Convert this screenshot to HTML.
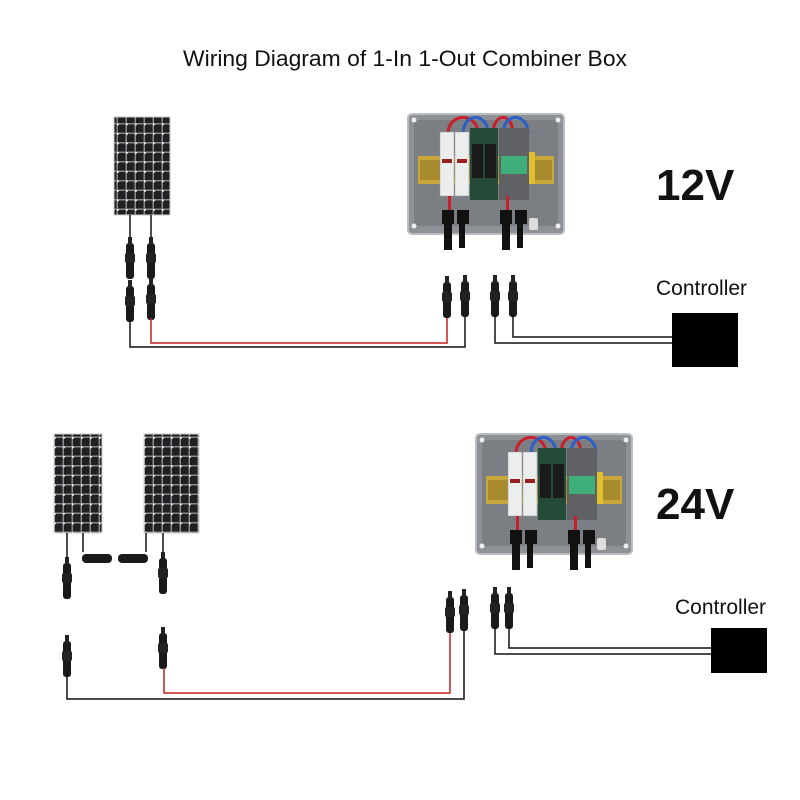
<!DOCTYPE html>
<html><head><meta charset="utf-8"><style>
html,body{margin:0;padding:0;background:#fff;width:800px;height:800px;overflow:hidden}
svg{display:block}
text{font-family:"Liberation Sans",sans-serif}
</style></head><body>
<svg width="800" height="800" viewBox="0 0 800 800" xmlns="http://www.w3.org/2000/svg">
<defs>
<pattern id="cells" width="9" height="9.5" patternUnits="userSpaceOnUse">
<rect width="9" height="9.5" fill="#8a8a8e"/>
<rect x="1" y="1" width="7.5" height="8" fill="#202023"/>
<circle cx="0.8" cy="0.8" r="1.2" fill="#f0f0f0"/>
</pattern>
<g id="conn">
<rect x="-4" y="0" width="8" height="36" rx="3" fill="#1a1a1a"/>
<rect x="-5" y="10" width="10" height="10" rx="2" fill="#222"/>
<rect x="-2" y="-6" width="4" height="8" fill="#222"/>
</g>
<g id="box">
<rect x="0" y="0" width="156" height="120" rx="4" fill="#8e9196" stroke="#b9bcc0" stroke-width="2"/>
<rect x="6" y="6" width="144" height="106" rx="3" fill="#7b7e83"/>
<circle cx="6" cy="6" r="2.5" fill="#eee"/><circle cx="150" cy="6" r="2.5" fill="#eee"/>
<circle cx="6" cy="112" r="2.5" fill="#eee"/><circle cx="150" cy="112" r="2.5" fill="#eee"/>
<rect x="10" y="42" width="136" height="28" fill="#c8a63a"/>
<rect x="12" y="46" width="132" height="20" fill="#a88a2e"/>
<path d="M40 20 C40 -2 70 -2 70 20 M85 20 C85 -2 105 -2 105 20" stroke="#c8202a" stroke-width="3" fill="none"/>
<path d="M55 20 C55 -2 80 -2 80 20 M95 20 C95 -2 120 -2 120 20" stroke="#2a60c8" stroke-width="3" fill="none"/>
<rect x="32" y="18" width="14" height="64" fill="#eceeee" stroke="#999" stroke-width=".5"/>
<rect x="47" y="18" width="14" height="64" fill="#eceeee" stroke="#999" stroke-width=".5"/>
<rect x="34" y="45" width="10" height="4" fill="#9a2020"/><rect x="49" y="45" width="10" height="4" fill="#9a2020"/>
<rect x="62" y="14" width="28" height="72" fill="#254a38"/>
<rect x="64" y="30" width="11" height="34" fill="#1a1a1a"/><rect x="77" y="30" width="11" height="34" fill="#1a1a1a"/>
<rect x="91" y="14" width="30" height="72" fill="#5f6165"/>
<rect x="93" y="42" width="26" height="18" fill="#3fae7a"/>
<rect x="121" y="38" width="6" height="32" fill="#e0c030"/>
<rect x="40" y="82" width="3" height="14" fill="#c8202a"/><rect x="98" y="82" width="3" height="14" fill="#c8202a"/>
<rect x="34" y="96" width="12" height="14" fill="#111"/><rect x="49" y="96" width="12" height="14" fill="#111"/>
<rect x="92" y="96" width="12" height="14" fill="#111"/><rect x="107" y="96" width="12" height="14" fill="#111"/>
<rect x="36" y="110" width="8" height="26" fill="#111"/><rect x="51" y="110" width="6" height="24" fill="#111"/>
<rect x="94" y="110" width="8" height="26" fill="#111"/><rect x="109" y="110" width="6" height="24" fill="#111"/>
<rect x="121" y="104" width="9" height="12" rx="2" fill="#ddd"/>
</g>
</defs>

<text x="405" y="66" font-size="22" font-weight="500" text-anchor="middle" fill="#111" textLength="444" lengthAdjust="spacingAndGlyphs">Wiring Diagram of 1-In 1-Out Combiner Box</text>

<!-- TOP -->
<rect x="114" y="117" width="56" height="98" fill="url(#cells)" stroke="#ccc"/>
<line x1="130" y1="215" x2="130" y2="240" stroke="#111" stroke-width="1.5"/>
<line x1="151" y1="215" x2="151" y2="240" stroke="#111" stroke-width="1.5"/>
<use href="#conn" x="130" y="243"/><use href="#conn" x="151" y="243"/>
<use href="#conn" x="130" y="286"/><use href="#conn" x="151" y="284"/>
<path d="M130 318 V347 H465 V315" stroke="#111" stroke-width="1.5" fill="none"/>
<path d="M151 318 V343 H447 V315" stroke="#c81e1e" stroke-width="1.5" fill="none"/>
<use href="#box" x="408" y="114"/>
<use href="#conn" x="447" y="282"/><use href="#conn" x="465" y="281"/>
<use href="#conn" x="495" y="281"/><use href="#conn" x="513" y="281"/>
<path d="M495 314 V343 H672" stroke="#111" stroke-width="1.5" fill="none"/>
<path d="M513 314 V337 H672" stroke="#111" stroke-width="1.5" fill="none"/>
<rect x="672" y="313" width="66" height="54" fill="#000"/>
<text x="656" y="295" font-size="21" fill="#111">Controller</text>
<text x="656" y="200" font-size="44" font-weight="bold" fill="#111">12V</text>

<!-- BOTTOM -->
<rect x="54" y="434" width="48" height="99" fill="url(#cells)" stroke="#ccc"/>
<rect x="144" y="434" width="55" height="99" fill="url(#cells)" stroke="#ccc"/>
<line x1="67" y1="533" x2="67" y2="562" stroke="#111" stroke-width="1.5"/>
<line x1="83" y1="533" x2="83" y2="552" stroke="#111" stroke-width="1.5"/>
<line x1="146" y1="533" x2="146" y2="552" stroke="#111" stroke-width="1.5"/>
<line x1="163" y1="533" x2="163" y2="558" stroke="#111" stroke-width="1.5"/>
<use href="#conn" x="67" y="563"/><use href="#conn" x="163" y="558"/>
<rect x="82" y="554" width="30" height="9" rx="4" fill="#1a1a1a"/>
<rect x="118" y="554" width="30" height="9" rx="4" fill="#1a1a1a"/>
<use href="#conn" x="67" y="641"/><use href="#conn" x="163" y="633"/>
<path d="M67 672 V699 H464 V628" stroke="#111" stroke-width="1.5" fill="none"/>
<path d="M164 668 V693 H450 V628" stroke="#c81e1e" stroke-width="1.5" fill="none"/>
<use href="#box" x="476" y="434"/>
<use href="#conn" x="450" y="597"/><use href="#conn" x="464" y="595"/>
<use href="#conn" x="495" y="593"/><use href="#conn" x="509" y="593"/>
<path d="M495 626 V654 H711" stroke="#111" stroke-width="1.5" fill="none"/>
<path d="M509 626 V648 H711" stroke="#111" stroke-width="1.5" fill="none"/>
<rect x="711" y="628" width="56" height="45" fill="#000"/>
<text x="675" y="614" font-size="21" fill="#111">Controller</text>
<text x="656" y="519" font-size="44" font-weight="bold" fill="#111">24V</text>
</svg>
</body></html>
